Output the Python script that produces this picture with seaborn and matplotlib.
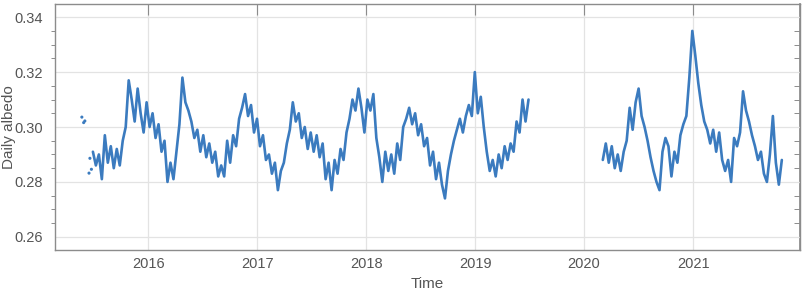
import pandas as pd
import matplotlib
matplotlib.use("Agg")
import matplotlib.pyplot as plt
import matplotlib.dates as mdates
from matplotlib.ticker import MultipleLocator, FormatStrFormatter
import seaborn as sns

# Daily albedo at ~10-day spacing
SEG1_START = "2015-06-30"
seg1_albedo = [
    0.291, 0.286, 0.290, 0.281, 0.297, 0.287, 0.293, 0.285, 0.292, 0.286,
    0.295, 0.300, 0.317, 0.310, 0.302, 0.314, 0.305, 0.298, 0.309, 0.300,
    0.305, 0.296, 0.301, 0.291, 0.295, 0.280, 0.287, 0.281, 0.291, 0.301,
    0.318, 0.309, 0.306, 0.302, 0.296, 0.299, 0.291, 0.297, 0.289, 0.294,
    0.287, 0.291, 0.282, 0.286, 0.282, 0.295, 0.287, 0.297, 0.293, 0.303,
    0.307, 0.312, 0.304, 0.308, 0.298, 0.303, 0.293, 0.297, 0.288, 0.290,
    0.283, 0.287, 0.277, 0.284, 0.287, 0.294, 0.299, 0.309, 0.302, 0.305,
    0.296, 0.300, 0.292, 0.298, 0.291, 0.297, 0.289, 0.294, 0.281, 0.287,
    0.277, 0.288, 0.283, 0.292, 0.288, 0.298, 0.303, 0.310, 0.306, 0.314,
    0.307, 0.298, 0.310, 0.306, 0.312, 0.296, 0.289, 0.280, 0.291, 0.284,
    0.290, 0.283, 0.294, 0.288, 0.300, 0.303, 0.307, 0.301, 0.305, 0.297,
    0.301, 0.293, 0.296, 0.286, 0.291, 0.281, 0.287, 0.279, 0.274, 0.284,
    0.290, 0.295, 0.299, 0.303, 0.298, 0.304, 0.308, 0.304, 0.320, 0.305,
    0.311, 0.300, 0.291, 0.284, 0.288, 0.282, 0.290, 0.285, 0.293, 0.288,
    0.294, 0.291, 0.302, 0.298, 0.310, 0.302, 0.310,
]

SEG2_START = "2020-03-04"
seg2_albedo = [
    0.288, 0.294, 0.287, 0.293, 0.285, 0.290, 0.284, 0.291, 0.295, 0.307,
    0.299, 0.309, 0.314, 0.304, 0.300, 0.295, 0.289, 0.284, 0.280, 0.277,
    0.291, 0.296, 0.293, 0.282, 0.291, 0.287, 0.297, 0.301, 0.304, 0.318,
    0.335, 0.326, 0.316, 0.308, 0.302, 0.299, 0.294, 0.299, 0.291, 0.298,
    0.288, 0.284, 0.288, 0.280, 0.296, 0.293, 0.298, 0.313, 0.306, 0.302,
    0.297, 0.293, 0.288, 0.291, 0.283, 0.280, 0.290, 0.304, 0.287, 0.279,
    0.288,
]

# isolated early measurements
early_dates = ["2015-05-24", "2015-05-30", "2015-06-03", "2015-06-17", "2015-06-20", "2015-06-25"]
early_albedo = [0.3036, 0.3016, 0.3022, 0.2832, 0.2886, 0.2846]

LINE_COLOR = "#3b7bbf"
TEXT_COLOR = "#555555"
FRAME_COLOR = "#8c8c8c"

seg1 = pd.DataFrame({
    "Time": pd.date_range(SEG1_START, periods=len(seg1_albedo), freq="10D"),
    "albedo": seg1_albedo, "segment": 1})
seg2 = pd.DataFrame({
    "Time": pd.date_range(SEG2_START, periods=len(seg2_albedo), freq="10D"),
    "albedo": seg2_albedo, "segment": 2})
df = pd.concat([seg1, seg2], ignore_index=True)
early = pd.DataFrame({"Time": pd.to_datetime(early_dates), "albedo": early_albedo})

sns.set_theme(style="white")
plt.rcParams['font.family'] = ['Liberation Sans Narrow', 'Liberation Sans', 'DejaVu Sans']

fig = plt.figure(figsize=(8.03, 2.92), dpi=100)
ax = fig.add_axes([0.0685, 0.1438, 0.9278, 0.8425])

sns.lineplot(data=df, x="Time", y="albedo", units="segment", estimator=None,
             color=LINE_COLOR, linewidth=1.9, ax=ax)
sns.scatterplot(data=early, x="Time", y="albedo", color=LINE_COLOR, s=5,
                edgecolor="none", ax=ax)

ax.set_xlim(pd.Timestamp("2015-02-23"), pd.Timestamp("2021-12-25"))
ax.set_ylim(0.2552, 0.3448)

ax.xaxis.set_major_locator(mdates.YearLocator())
ax.xaxis.set_major_formatter(mdates.DateFormatter("%Y"))
ax.yaxis.set_major_locator(MultipleLocator(0.02))
ax.yaxis.set_minor_locator(MultipleLocator(0.005))
ax.yaxis.set_major_formatter(FormatStrFormatter("%.2f"))

ax.grid(True, which="major", color="#e3e3e3", linewidth=0.9)
for s in ax.spines.values():
    s.set_color(FRAME_COLOR)
    s.set_linewidth(1.0)

ax.tick_params(axis="x", which="major", direction="in", length=8, width=0.8,
               color=FRAME_COLOR, labelcolor=TEXT_COLOR, labelsize=10.5, top=True, pad=5)
ax.tick_params(axis="y", which="major", direction="out", length=6, width=0.8,
               color=FRAME_COLOR, labelcolor=TEXT_COLOR, labelsize=10.5, pad=3)
ax.tick_params(axis="y", which="minor", direction="out", length=3, width=0.7,
               color=FRAME_COLOR, left=True)

# right-hand frame ticks point inward
ax2 = ax.secondary_yaxis("right")
ax2.yaxis.set_major_locator(MultipleLocator(0.02))
ax2.yaxis.set_minor_locator(MultipleLocator(0.005))
ax2.tick_params(axis="y", which="both", direction="in", length=4, width=0.7,
                color=FRAME_COLOR, labelright=False)
ax2.spines["right"].set_color(FRAME_COLOR)

ax.set_xlabel("Time", fontsize=11, color=TEXT_COLOR, labelpad=4)
ax.set_ylabel("Daily albedo", fontsize=11, color=TEXT_COLOR)
ax.yaxis.set_label_coords(-0.052, 0.5)

fig.savefig("out.png", dpi=100)
